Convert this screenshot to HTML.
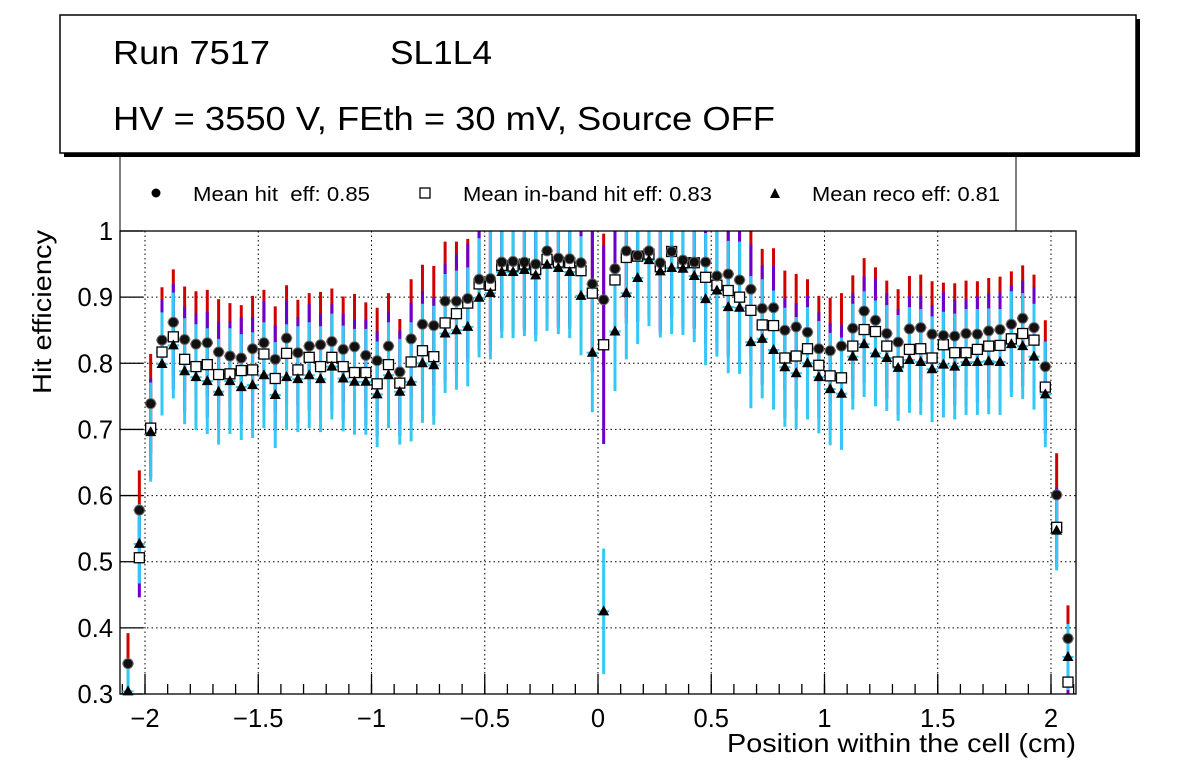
<!DOCTYPE html>
<html><head><meta charset="utf-8"><style>
body{margin:0;background:#fff;}
svg{display:block;font-family:"Liberation Sans",Arial,sans-serif;}
</style></head><body>
<svg id="chart" width="1196" height="772" viewBox="0 0 1196 772">
<rect x="0" y="0" width="1196" height="772" fill="#fff"/>
<g>
<rect x="64" y="19" width="1076" height="138" fill="#000"/>
<rect x="60" y="15" width="1076" height="138" fill="#fff" stroke="#000" stroke-width="1.5"/>
<text x="113" y="64" font-size="33" textLength="157" lengthAdjust="spacingAndGlyphs">Run 7517</text>
<text x="390" y="64" font-size="33" textLength="102" lengthAdjust="spacingAndGlyphs">SL1L4</text>
<text x="113" y="130" font-size="33" textLength="662" lengthAdjust="spacingAndGlyphs">HV = 3550 V, FEth = 30 mV, Source OFF</text>
</g>
<g>
<path d="M120,154 V231 H1016 V154" fill="none" stroke="#000" stroke-width="1"/>
<circle cx="156" cy="193" r="4.5" fill="#000"/>
<text x="193" y="201" font-size="20" xml:space="preserve" textLength="177" lengthAdjust="spacingAndGlyphs">Mean hit  eff: 0.85</text>
<rect x="420" y="188" width="10" height="10" fill="#fff" stroke="#000" stroke-width="1.3"/>
<text x="463" y="201" font-size="20" textLength="249" lengthAdjust="spacingAndGlyphs">Mean in-band hit eff: 0.83</text>
<path d="M775,188 L780,198 L770,198 Z" fill="#000"/>
<text x="812" y="201" font-size="20" textLength="188" lengthAdjust="spacingAndGlyphs">Mean reco eff: 0.81</text>
</g>
<g id="grid"></g>
<g id="axes"></g>
<g id="plot"></g>
<rect x="120" y="231" width="956" height="463" fill="none" stroke="#000" stroke-width="1.3"/>
<text transform="translate(51,312) rotate(-90)" text-anchor="middle" font-size="26" textLength="164" lengthAdjust="spacingAndGlyphs">Hit efficiency</text>
<text x="1076" y="752" text-anchor="end" font-size="26" textLength="349" lengthAdjust="spacingAndGlyphs">Position within the cell (cm)</text>
</svg>
<script>
const hitEff=[0.346,0.578,0.739,0.835,0.862,0.836,0.829,0.831,0.817,0.811,0.808,0.822,0.831,0.806,0.838,0.816,0.826,0.828,0.833,0.821,0.825,
0.812,0.804,0.826,0.787,0.837,0.859,0.857,0.894,0.894,0.898,0.927,0.928,0.953,0.954,0.953,0.950,0.970,0.959,0.958,0.952,0.920,
0.896,0.943,0.970,0.963,0.970,0.952,0.969,0.956,0.953,0.953,0.932,0.935,0.926,0.912,0.883,0.884,0.850,0.855,0.847,0.822,0.819,
0.826,0.853,0.879,0.865,0.845,0.832,0.852,0.854,0.844,0.842,0.841,0.845,0.844,0.849,0.851,0.859,0.868,0.854,0.795,0.601,0.384];
const bandEff=[0.28,0.506,0.702,0.817,0.840,0.806,0.795,0.798,0.783,0.784,0.789,0.790,0.814,0.777,0.815,0.790,0.809,0.795,0.809,0.795,0.786,
0.786,0.769,0.798,0.770,0.802,0.819,0.810,0.861,0.875,0.891,0.920,0.918,0.948,0.947,0.950,0.942,0.957,0.953,0.952,0.940,0.906,
0.828,0.926,0.960,0.962,0.965,0.946,0.969,0.952,0.952,0.930,0.918,0.910,0.900,0.880,0.858,0.857,0.808,0.811,0.822,0.797,0.781,
0.778,0.826,0.851,0.848,0.826,0.802,0.821,0.822,0.808,0.828,0.816,0.816,0.821,0.826,0.827,0.837,0.845,0.835,0.764,0.552,0.318];
const recoEff=[0.304,0.527,0.696,0.799,0.827,0.788,0.779,0.773,0.757,0.773,0.764,0.767,0.782,0.752,0.779,0.776,0.782,0.776,0.795,0.777,0.772,
0.772,0.753,0.782,0.757,0.772,0.800,0.797,0.845,0.850,0.855,0.899,0.906,0.938,0.938,0.941,0.933,0.949,0.944,0.938,0.902,0.816,
0.425,0.848,0.906,0.929,0.956,0.939,0.944,0.943,0.932,0.897,0.910,0.885,0.884,0.832,0.837,0.820,0.794,0.785,0.800,0.779,0.761,
0.754,0.810,0.829,0.815,0.808,0.793,0.805,0.802,0.791,0.798,0.795,0.802,0.802,0.803,0.802,0.829,0.826,0.810,0.753,0.547,0.356];
const hitErr=[0.046,0.06,0.075,0.08,0.08,0.08,0.08,0.08,0.08,0.08,0.08,0.08,0.08,0.08,0.08,0.08,0.08,0.08,0.08,0.08,0.08,
0.08,0.08,0.08,0.08,0.09,0.09,0.09,0.09,0.09,0.09,0.1,0.1,0.1,0.1,0.1,0.1,0.1,0.1,0.1,0.1,0.1,
0.1,0.1,0.1,0.1,0.1,0.1,0.1,0.1,0.1,0.1,0.1,0.1,0.1,0.1,0.09,0.09,0.09,0.08,0.08,0.08,0.08,
0.08,0.08,0.08,0.08,0.08,0.08,0.08,0.08,0.08,0.08,0.08,0.08,0.08,0.08,0.08,0.08,0.08,0.08,0.07,0.063,0.05];
const bandErr=[0.05,0.06,0.075,0.08,0.08,0.08,0.08,0.08,0.08,0.08,0.08,0.08,0.08,0.08,0.08,0.08,0.08,0.08,0.08,0.08,0.08,
0.08,0.08,0.08,0.08,0.09,0.09,0.09,0.09,0.09,0.09,0.1,0.1,0.1,0.1,0.1,0.1,0.1,0.1,0.1,0.1,0.12,
0.15,0.1,0.1,0.1,0.1,0.1,0.1,0.1,0.1,0.1,0.1,0.1,0.1,0.1,0.09,0.09,0.09,0.08,0.08,0.08,0.08,
0.08,0.08,0.08,0.08,0.08,0.08,0.08,0.08,0.08,0.08,0.08,0.08,0.08,0.08,0.08,0.08,0.08,0.08,0.07,0.06,0.05];
const recoErr=[0.05,0.06,0.075,0.078,0.08,0.08,0.08,0.08,0.08,0.08,0.08,0.08,0.08,0.08,0.08,0.08,0.08,0.08,0.08,0.08,0.08,
0.08,0.08,0.08,0.08,0.09,0.09,0.09,0.09,0.09,0.09,0.09,0.1,0.1,0.1,0.1,0.1,0.1,0.1,0.1,0.09,0.09,
0.095,0.09,0.1,0.1,0.1,0.1,0.1,0.1,0.1,0.1,0.1,0.1,0.1,0.1,0.09,0.09,0.09,0.085,0.085,0.085,0.085,
0.085,0.08,0.08,0.08,0.08,0.08,0.08,0.08,0.08,0.08,0.08,0.08,0.08,0.08,0.08,0.08,0.08,0.08,0.08,0.06,0.05];
const xTicks=[-2,-1.5,-1,-0.5,0,0.5,1,1.5,2];
const xTickLabels=["\u22122","\u22121.5","\u22121","\u22120.5","0","0.5","1","1.5","2"];
const yTicks=[0.3,0.4,0.5,0.6,0.7,0.8,0.9,1];
const yTickLabels=["0.3","0.4","0.5","0.6","0.7","0.8","0.9","1"];

const NS="http://www.w3.org/2000/svg";
const X0=120,X1=1076,Y0=694,Y1=231,XMIN=-2.1104,XMAX=2.1104,YMIN=0.3,YMAX=1.0,BINW=0.05,XSTART=-2.075;
function sx(v){return X0+(v-XMIN)/(XMAX-XMIN)*(X1-X0);}
function sy(v){return Y0-(v-YMIN)/(YMAX-YMIN)*(Y0-Y1);}
function clampY(v){return Math.max(Y1,Math.min(Y0,sy(v)));}
function mk(tag,attrs,parent){const e=document.createElementNS(NS,tag);for(const k in attrs)e.setAttribute(k,attrs[k]);parent.appendChild(e);return e;}
const grid=document.getElementById('grid'),axes=document.getElementById('axes'),plot=document.getElementById('plot');

xTicks.forEach((t,i)=>{
  const x=sx(t);
  const g=mk('line',{x1:x,x2:x,y1:Y1,y2:Y0,stroke:'#000','stroke-width':1,'stroke-dasharray':'1.5,3'},grid);
  
  
  const tk=mk('line',{x1:x,x2:x,y1:Y0,y2:Y0-20,stroke:'#000','stroke-width':1.3},axes);
  
  
  const lb=mk('text',{x:x,y:727,'text-anchor':'middle','font-size':25.5},axes);
  lb.textContent=xTickLabels[i];
  
  
});
for(let v=-2.1;v<=2.1001;v+=0.1){
  const x=sx(v);
  const m=mk('line',{x1:x,x2:x,y1:Y0,y2:Y0-10,stroke:'#000','stroke-width':1.3},axes);
  
  
}
yTicks.forEach((t,i)=>{
  const y=sy(t);
  const g=mk('line',{x1:X0,x2:X1,y1:y,y2:y,stroke:'#000','stroke-width':1,'stroke-dasharray':'1.5,3'},grid);
  
  
  const tk=mk('line',{x1:X0,x2:X0+23,y1:y,y2:y,stroke:'#000','stroke-width':1.3},axes);
  
  
  const lb=mk('text',{x:113,y:y+9,'text-anchor':'end','font-size':25.5},axes);
  lb.textContent=yTickLabels[i];
  
  
});

function drawErr(vals,errs,color,name){
  vals.forEach((v,i)=>{
    const xc=XSTART+i*BINW,x=sx(xc);
    const e=mk('line',{x1:x,x2:x,y1:clampY(v+errs[i]),y2:clampY(v-errs[i]),stroke:color,'stroke-width':3},plot);
    
    
    if(v>=YMIN&&v<=YMAX){
      const h=mk('line',{x1:sx(xc-BINW/2),x2:sx(xc+BINW/2),y1:sy(v),y2:sy(v),stroke:color,'stroke-width':2},plot);
      
      
    }
  });
}
drawErr(hitEff,hitErr,'#d10000','hit');
drawErr(bandEff,bandErr,'#6a00cc','band');
drawErr(recoEff,recoErr,'#33c8f5','reco');

bandEff.forEach((v,i)=>{
  if(v<YMIN||v>YMAX)return;
  const x=sx(XSTART+i*BINW),y=sy(v);
  const r=mk('rect',{x:x-5,y:y-5,width:10,height:10,fill:'#fff',stroke:'#000','stroke-width':1.3},plot);
  
  
});
hitEff.forEach((v,i)=>{
  if(v<YMIN||v>YMAX)return;
  const x=sx(XSTART+i*BINW),y=sy(v);
  const c=mk('circle',{cx:x,cy:y,r:5,fill:'#111',stroke:'#666','stroke-width':1},plot);
  
  
});
recoEff.forEach((v,i)=>{
  if(v<YMIN||v>YMAX)return;
  const x=sx(XSTART+i*BINW),y=sy(v);
  const t=mk('path',{d:`M${x},${y-6} L${x+5.5},${y+4} L${x-5.5},${y+4} Z`,fill:'#000'},plot);
  
  
});
</script>
</body></html>
